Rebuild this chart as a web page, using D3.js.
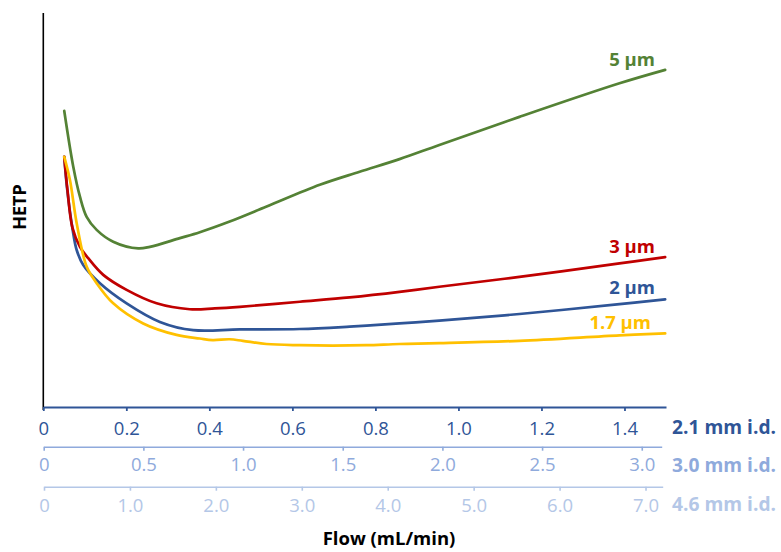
<!DOCTYPE html>
<html>
<head>
<meta charset="utf-8">
<script src="https://cdn.jsdelivr.net/npm/d3@7"></script>
<style>
  html, body { margin: 0; padding: 0; background: #fff; }
  svg { display: block; font-family: "Open Sans", sans-serif; }
</style>
</head>
<body>
<svg id="chart" width="781" height="552"></svg>
<script>
// ---- Data (flow in mL/min for 2.1 mm i.d.; HETP in arbitrary units) ----
const flow5 = [0.0505,0.0722,0.0883,0.1044,0.1285,0.1684,0.2286,0.2567,0.329,0.377,0.449,0.538,0.666,0.762,0.858,0.954,1.147,1.388,1.498];
const hetp5 = [75.2,61.1,53.5,48.4,45.1,42.1,40.4,40.8,43.0,44.5,47.2,51.0,56.5,59.8,63.0,66.6,73.7,82.2,85.6];

const flow3 = [0.0505,0.0582,0.0703,0.0883,0.1076,0.1444,0.2007,0.2729,0.353,0.413,0.4733,0.618,0.738,0.858,0.954,1.147,1.388,1.498];
const hetp3 = [63.6,55.2,45.6,40.8,38.0,33.7,29.9,26.5,25.0,25.2,25.6,26.9,28.0,29.4,30.7,33.2,36.6,38.2];

const flow2 = [0.0505,0.0577,0.0707,0.0804,0.0962,0.1364,0.2007,0.2808,0.361,0.4733,0.618,0.738,0.858,0.954,1.147,1.388,1.498];
const hetp2 = [63.6,55.2,45.1,40.0,36.2,31.6,26.5,21.8,19.7,19.9,20.0,20.6,21.4,22.1,23.8,26.3,27.5];

const flow17 = [0.0505,0.0642,0.0804,0.1044,0.1285,0.1684,0.2406,0.321,0.377,0.408,0.449,0.4805,0.5375,0.618,0.697,0.778,0.858,0.954,1.147,1.388,1.498];
const hetp17 = [63.6,57.7,46.8,35.8,31.6,26.5,21.4,18.5,17.6,17.2,17.4,17.0,16.2,15.9,15.8,15.9,16.2,16.4,17.0,18.4,18.9];

const seriesNames = ["5 µm", "3 µm", "2 µm", "1.7 µm"];
const seriesColors = ["#548235", "#C00000", "#2F5597", "#FFC000"];

const ticks21 = [0,0.2,0.4,0.6,0.8,1.0,1.2,1.4];
const ticks30 = [0,0.5,1.0,1.5,2.0,2.5,3.0];
const ticks46 = [0,1,2,3,4,5,6,7];
const axisNames = ["2.1 mm i.d.", "3.0 mm i.d.", "4.6 mm i.d."];
const axisColors = ["#2F5597", "#8FAADC", "#B4C7E7"];

// ---- Layout ----
const svg = d3.select("#chart");
const x0 = 43.3;
const x = d3.scaleLinear().domain([0, 1.5]).range([x0, 666]);
const x30 = d3.scaleLinear().domain([0, 3.1]).range([x0 + 0.4, 661.7]);
const x46 = d3.scaleLinear().domain([0, 7.2]).range([x0 + 0.7, 662.7]);
const y = d3.scaleLinear().domain([0, 100]).range([408, 13]);

const series = [
  {name: seriesNames[0], color: seriesColors[0], xs: flow5, ys: hetp5},
  {name: seriesNames[1], color: seriesColors[1], xs: flow3, ys: hetp3},
  {name: seriesNames[2], color: seriesColors[2], xs: flow2, ys: hetp2},
  {name: seriesNames[3], color: seriesColors[3], xs: flow17, ys: hetp17}
];

// y axis line (no ticks)
svg.append("line")
  .attr("x1", x0).attr("x2", x0)
  .attr("y1", y(100)).attr("y2", 410)
  .attr("stroke", "#000").attr("stroke-width", 1.6);

// lines
const line = d3.line().x(d => x(d[0])).y(d => y(d[1])).curve(d3.curveCatmullRom.alpha(0.5));
const gLines = svg.append("g");
[series[0], series[2], series[1], series[3]].forEach(s => {
  const pts = s.xs.map((v, i) => [v, s.ys[i]]);
  gLines.append("path")
    .attr("d", line(pts))
    .attr("fill", "none")
    .attr("stroke", s.color)
    .attr("stroke-width", 2.7)
    .attr("stroke-linejoin", "round")
    .attr("stroke-linecap", "round");
});

// series labels (right-aligned near line ends)
const labelPos = [
  {x: 655, y: 66}, {x: 655, y: 253}, {x: 655, y: 294}, {x: 651, y: 329}
];
series.forEach((s, i) => {
  svg.append("text")
    .attr("x", labelPos[i].x).attr("y", labelPos[i].y)
    .attr("text-anchor", "end")
    .attr("font-size", 18.5).attr("font-weight", "bold")
    .attr("fill", s.color)
    .text(s.name);
});

// x axes
function styleAxis(g, color, width) {
  g.select(".domain").attr("stroke", color).attr("stroke-width", width);
  g.selectAll(".tick line").attr("stroke", color).attr("stroke-width", width);
  g.selectAll(".tick text").attr("fill", color).attr("font-size", 18.5)
    .attr("font-family", "'Open Sans', sans-serif");
}
const fmt = d => d === 0 ? "0" : d3.format(".1f")(d);

const axisYs = [407, 446.7, 486.7];
const gA = svg.append("g").attr("transform", `translate(0,${axisYs[0]})`)
  .call(d3.axisBottom(x).tickValues(ticks21).tickFormat(fmt).tickSize(4).tickSizeOuter(0).tickPadding(10.5));
styleAxis(gA, axisColors[0], 1.8);
const gB = svg.append("g").attr("transform", `translate(0,${axisYs[1]})`)
  .call(d3.axisBottom(x30).tickValues(ticks30).tickFormat(fmt).tickSize(4).tickSizeOuter(0).tickPadding(7.5));
styleAxis(gB, axisColors[1], 1.6);
const gC = svg.append("g").attr("transform", `translate(0,${axisYs[2]})`)
  .call(d3.axisBottom(x46).tickValues(ticks46).tickFormat(fmt).tickSize(4).tickSizeOuter(0).tickPadding(8.5));
styleAxis(gC, axisColors[2], 1.6);

// axis name labels on right
const nameBaselines = [433.5, 472, 510.5];
axisNames.forEach((n, i) => {
  svg.append("text")
    .attr("x", 672).attr("y", nameBaselines[i])
    .attr("font-size", 19).attr("font-weight", "bold")
    .attr("fill", axisColors[i])
    .attr("textLength", 104)
    .attr("lengthAdjust", "spacingAndGlyphs")
    .text(n);
});

// axis titles
svg.append("text")
  .attr("x", 389).attr("y", 545)
  .attr("text-anchor", "middle")
  .attr("font-size", 18.5).attr("font-weight", "bold")
  .attr("fill", "#000")
  .text("Flow (mL/min)");

svg.append("text")
  .attr("transform", "translate(26,207) rotate(-90)")
  .attr("text-anchor", "middle")
  .attr("font-size", 18).attr("font-weight", "bold")
  .attr("fill", "#000")
  .text("HETP");
</script>
</body>
</html>
